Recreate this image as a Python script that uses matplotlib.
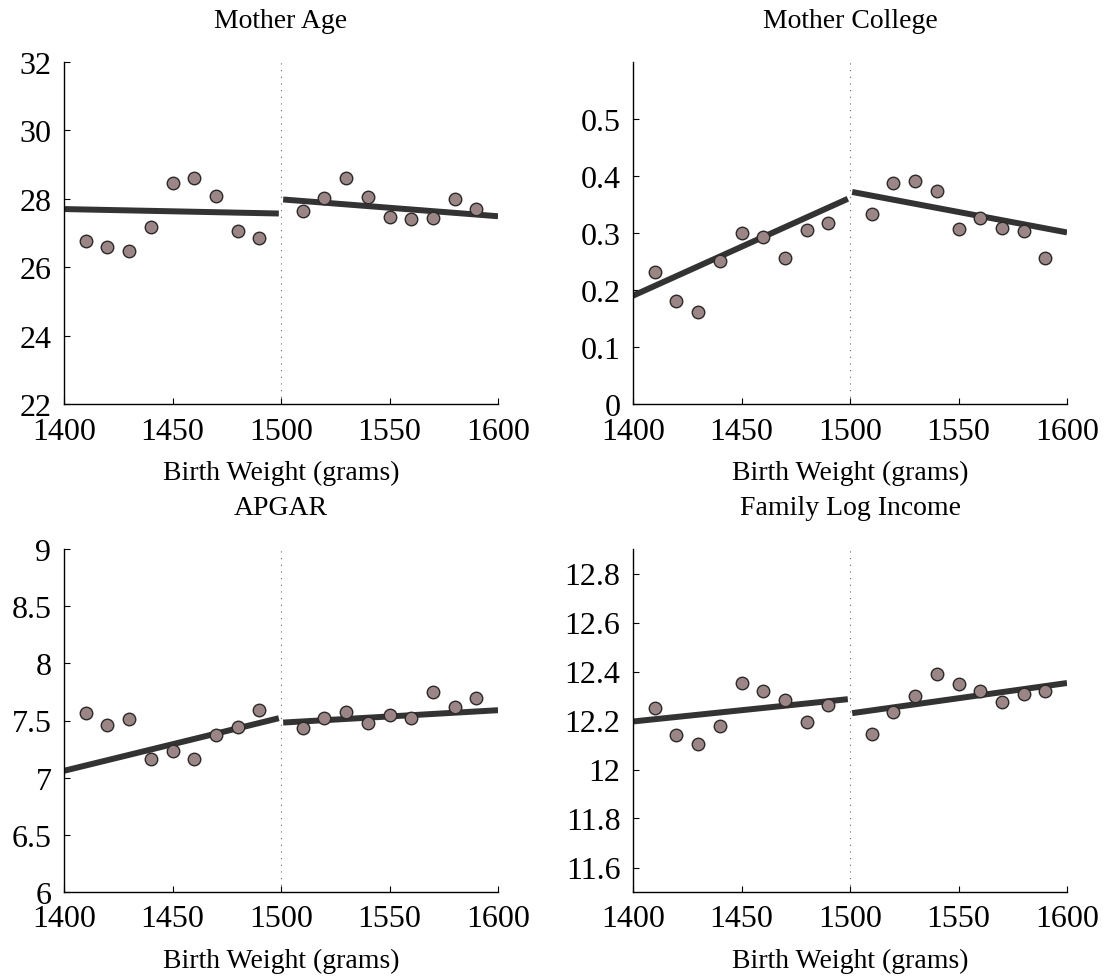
import matplotlib
matplotlib.use("Agg")
import matplotlib.pyplot as plt
import numpy as np

plt.rcParams['font.family'] = ['Liberation Serif', 'DejaVu Serif']

# ---- data ----
bins_left = [1410, 1420, 1430, 1440, 1450, 1460, 1470, 1480, 1490]
bins_right = [1510, 1520, 1530, 1540, 1550, 1560, 1570, 1580, 1590]
cutoff = 1500
x_min, x_max = 1400, 1600

titles = ["Mother Age", "Mother College", "APGAR", "Family Log Income"]
xlabel = "Birth Weight (grams)"
xticks = [1400, 1450, 1500, 1550, 1600]

age_left = [26.76, 26.58, 26.47, 27.17, 28.47, 28.62, 28.07, 27.06, 26.85]
age_right = [27.64, 28.02, 28.60, 28.04, 27.47, 27.40, 27.44, 27.98, 27.70]
age_fit_left = [27.70, 27.57]
age_fit_right = [27.98, 27.49]

college_left = [0.232, 0.180, 0.162, 0.251, 0.300, 0.293, 0.256, 0.305, 0.318]
college_right = [0.333, 0.388, 0.392, 0.373, 0.307, 0.326, 0.309, 0.303, 0.257]
college_fit_left = [0.190, 0.360]
college_fit_right = [0.372, 0.301]

apgar_left = [7.564, 7.465, 7.509, 7.167, 7.233, 7.160, 7.377, 7.441, 7.588]
apgar_right = [7.432, 7.520, 7.576, 7.482, 7.549, 7.520, 7.751, 7.614, 7.698]
apgar_fit_left = [7.06, 7.52]
apgar_fit_right = [7.482, 7.59]

income_left = [12.253, 12.141, 12.103, 12.177, 12.352, 12.319, 12.285, 12.193, 12.264]
income_right = [12.145, 12.235, 12.300, 12.390, 12.350, 12.319, 12.274, 12.307, 12.319]
income_fit_left = [12.196, 12.287]
income_fit_right = [12.230, 12.353]

ylims = [(22, 32), (0, 0.6), (6, 9), (11.5, 12.9)]
yticks = [
    [22, 24, 26, 28, 30, 32],
    [0, 0.1, 0.2, 0.3, 0.4, 0.5],
    [6, 6.5, 7, 7.5, 8, 8.5, 9],
    [11.6, 11.8, 12, 12.2, 12.4, 12.6, 12.8],
]
yticklabels = [
    ["22", "24", "26", "28", "30", "32"],
    ["0", "0.1", "0.2", "0.3", "0.4", "0.5"],
    ["6", "6.5", "7", "7.5", "8", "8.5", "9"],
    ["11.6", "11.8", "12", "12.2", "12.4", "12.6", "12.8"],
]

panels = [
    (age_left, age_right, age_fit_left, age_fit_right),
    (college_left, college_right, college_fit_left, college_fit_right),
    (apgar_left, apgar_right, apgar_fit_left, apgar_fit_right),
    (income_left, income_right, income_fit_left, income_fit_right),
]

W, H = 1105, 979
fig = plt.figure(figsize=(W / 100, H / 100), dpi=100)

positions = [
    (64, 63, 434, 342),
    (633, 63, 434, 342),
    (64, 550, 434, 343),
    (633, 550, 434, 343),
]

for i, (pos, (yl, yr, fl, fr)) in enumerate(zip(positions, panels)):
    x0, y0, w, h = pos
    ax = fig.add_axes([x0 / W, 1 - (y0 + h) / H, w / W, h / H])
    ax.axvline(cutoff, color='0.4', linestyle=(0, (1, 5)), linewidth=0.8, zorder=1)
    ax.plot([x_min, cutoff - 1], fl, color='#333333', linewidth=4.3,
            solid_capstyle='butt', zorder=2)
    ax.plot([cutoff + 1, x_max], fr, color='#333333', linewidth=4.3,
            solid_capstyle='butt', zorder=2)
    ax.plot(bins_left, yl, 'o', markersize=9, markerfacecolor='#9b8585',
            markeredgecolor='#2a2a2a', markeredgewidth=1.0, zorder=3, clip_on=False)
    ax.plot(bins_right, yr, 'o', markersize=9, markerfacecolor='#9b8585',
            markeredgecolor='#2a2a2a', markeredgewidth=1.0, zorder=3, clip_on=False)
    ax.set_xlim(x_min, x_max)
    ax.set_ylim(*ylims[i])
    ax.set_xticks(xticks)
    ax.set_xticklabels([str(t) for t in xticks])
    ax.set_yticks(yticks[i])
    ax.set_yticklabels(yticklabels[i])
    for s in ['top', 'right']:
        ax.spines[s].set_visible(False)
    for s in ['left', 'bottom']:
        ax.spines[s].set_linewidth(1.0)
    ax.tick_params(direction='in', length=4, width=0.8, labelsize=23)
    ax.tick_params(axis='y', pad=9)
    ax.tick_params(axis='x', pad=9)
    ax.set_xlabel(xlabel, fontsize=20, labelpad=10)
    ax.set_title(titles[i], fontsize=20, pad=25)

fig.savefig("out.png", dpi=100)
